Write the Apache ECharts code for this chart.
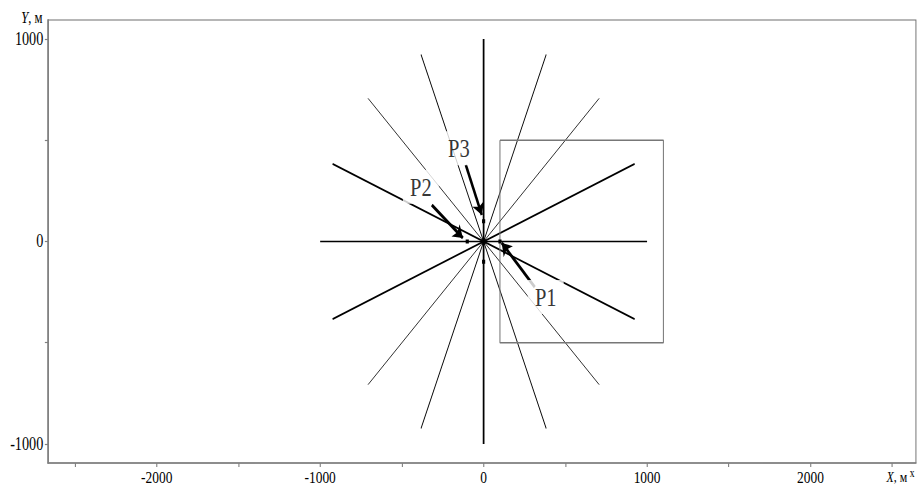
<!DOCTYPE html>
<html><head><meta charset="utf-8">
<script src="https://cdn.jsdelivr.net/npm/echarts@6/dist/echarts.min.js"></script>
<style>
html,body{margin:0;padding:0;overflow:hidden;background:#fff;width:917px;height:488px}
#c{width:1161px;height:488px;transform:scaleX(0.7898);transform-origin:0 0;}
</style>
</head><body><div id="c"></div>
<script>
// ---- data ----
const xTickLabels = [-2000, -1000, 0, 1000, 2000];
const yTickLabels = [-1000, 0, 1000];

// radial lines through the origin (start point, end point)
const rayStartX = [-1000, -924, -707, -383, 0, 383, 707, 924];
const rayStartY = [0, -383, -707, -924, -1000, -924, -707, -383];
const rayEndX   = [1000, 924, 707, 383, 0, -383, -707, -924];
const rayEndY   = [0, 383, 707, 924, 1000, 924, 707, 383];

// rectangle outline
const rectX = [100, 1100, 1100, 100, 100];
const rectY = [500, 500, -500, -500, 500];

// small points
const pointX = [100, -100, 0, 0];
const pointY = [0, 0, 100, -100];
const centerX = [0];
const centerY = [0];

// labels and arrows
const labelNames = ['P1', 'P2', 'P3'];
const labelX = [380, -384, -151];
const labelY = [-274, 270, 461];
const arrowFromX = [313, -317, -109];
const arrowFromY = [-225, 180, 378];
const arrowToX = [111, -127, -11];
const arrowToY = [-7, 17, 131];

// ---- styling ----
const FONT = '"Liberation Serif", "Times New Roman", serif';
const rayWidths = [1.3, 1.8, 0.9, 1.1, 2.2, 1.1, 0.9, 1.8];
const AX = '#808080';

const series = [];
rayStartX.forEach((_, i) => {
  series.push({
    type: 'line', silent: true, showSymbol: false, symbol: 'none',
    data: [[rayStartX[i], rayStartY[i]], [rayEndX[i], rayEndY[i]]],
    lineStyle: { color: '#000', width: rayWidths[i] }, z: 2
  });
});
series.push({
  type: 'line', silent: true, showSymbol: false, symbol: 'none',
  data: rectX.map((x, i) => [x, rectY[i]]),
  lineStyle: { color: '#777', width: 1.3 }, z: 2
});
series.push({
  type: 'lines', coordinateSystem: 'cartesian2d', silent: true,
  symbol: ['none', 'arrow'], symbolSize: 12,
  lineStyle: { color: '#000', width: 3.2, opacity: 1 },
  data: arrowFromX.map((x, i) => ({ coords: [[x, arrowFromY[i]], [arrowToX[i], arrowToY[i]]] })),
  z: 4
});
series.push({
  type: 'scatter', silent: true, symbol: 'rect', symbolSize: [4, 4],
  itemStyle: { color: '#000', opacity: 1 },
  data: pointX.map((x, i) => [x, pointY[i]]), z: 5
});
series.push({
  type: 'scatter', silent: true, symbol: 'circle', symbolSize: 7,
  itemStyle: { color: '#000' },
  data: centerX.map((x, i) => [x, centerY[i]]), z: 5
});
series.push({
  type: 'scatter', silent: true, symbol: 'circle', symbolSize: 1,
  itemStyle: { color: 'rgba(255,255,255,0)' },
  data: labelNames.map((n, i) => ({ name: n, value: [labelX[i], labelY[i]] })),
  label: {
    show: true, position: 'inside', formatter: p => p.name,
    fontFamily: FONT, fontSize: 26, color: '#000',
    backgroundColor: '#fff', padding: [5, 9, 3, 9]
  },
  z: 6
});

const chart = echarts.init(document.getElementById('c'), null, { renderer: 'svg' });
chart.setOption({
  animation: false,
  backgroundColor: '#fff',
  grid: {
    left: 60.8, right: 1.3, top: 20, bottom: 25, containLabel: false,
    outerBoundsMode: 'none',
    show: true, borderColor: '#6e6e6e', borderWidth: 1.2, backgroundColor: 'transparent'
  },
  xAxis: {
    type: 'value', min: -2665, max: 2645, splitNumber: 10,
    minInterval: 500, maxInterval: 500,
    name: '{i|X}, м', nameLocation: 'end', nameGap: 0,
    nameTextStyle: {
      fontFamily: FONT, fontSize: 15, color: '#000', align: 'right', verticalAlign: 'top',
      padding: [7, 11, 0, 0], rich: { i: { fontStyle: 'italic', fontFamily: FONT, fontSize: 15 } }
    },
    axisLine: { onZero: false, lineStyle: { color: AX, width: 1.6 } },
    axisTick: { show: true, length: 4, lineStyle: { color: AX, width: 1.4 } },
    splitLine: { show: false },
    axisLabel: {
      fontFamily: FONT, fontSize: 17, color: '#000', margin: 5,
      showMinLabel: false, showMaxLabel: false,
      formatter: v => xTickLabels.includes(v) ? String(v) : ''
    }
  },
  yAxis: {
    type: 'value', min: -1094, max: 1094, splitNumber: 4,
    minInterval: 500, maxInterval: 500,
    name: '{i|Y}, м', nameLocation: 'end', nameGap: 3,
    nameTextStyle: {
      fontFamily: FONT, fontSize: 16, color: '#000', align: 'right', verticalAlign: 'middle',
      padding: [0, 7, 0, 0], rich: { i: { fontStyle: 'italic', fontFamily: FONT, fontSize: 16 } }
    },
    axisLine: { onZero: false, lineStyle: { color: AX, width: 2 } },
    axisTick: { show: true, length: 4, lineStyle: { color: AX, width: 1.2 } },
    splitLine: { show: false },
    axisLabel: {
      fontFamily: FONT, fontSize: 18, color: '#000', margin: 6,
      showMinLabel: false, showMaxLabel: false,
      formatter: v => yTickLabels.includes(v) ? String(v) : ''
    }
  },
  graphic: [{
    type: 'text', left: 1152, top: 467,
    style: { text: 'x', fontFamily: FONT, fontSize: 12, fill: '#000' }
  }],
  series: series
});
</script></body></html>
